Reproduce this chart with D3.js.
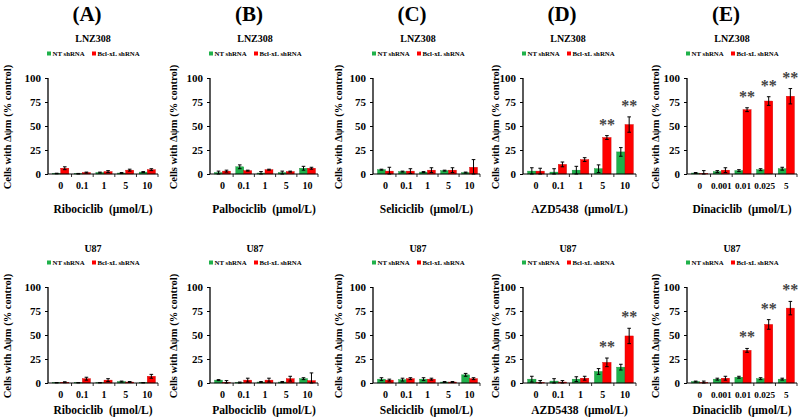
<!DOCTYPE html>
<html>
<head>
<meta charset="utf-8">
<script src="https://cdn.jsdelivr.net/npm/d3@7"></script>
<style>
  body { margin: 0; background: #fff; }
  text { font-family: "Liberation Serif", "Times New Roman", serif; font-weight: bold; }
</style>
</head>
<body>
<script>
// Data
var drugs = ["Ribociclib", "Palbociclib", "Seliciclib", "AZD5438", "Dinaciclib"];
var letters = ["(A)", "(B)", "(C)", "(D)", "(E)"];
var cellLines = ["LNZ308", "U87"];
var doses = ["0", "0.1", "1", "5", "10"];
var dinaDoses = ["0", "0.001", "0.01", "0.025", "5"];
var seriesNames = ["NT shRNA", "Bcl-xL shRNA"];

// LNZ308, one row per drug, one value per dose
var lnzNT = [
  [0.5, 0.3, 1.5, 1, 2],
  [1.5, 7.5, 1, 1.5, 6],
  [4.5, 2.5, 2, 3.5, 1.5],
  [3, 2, 4, 5.5, 23],
  [1, 2.5, 3.5, 4.5, 5.5]
];
var lnzNTErr = [
  [0.3, 0.3, 0.5, 0.5, 0.5],
  [1.5, 2, 1.5, 1.5, 2],
  [0.5, 0.5, 0.5, 0.5, 0.5],
  [3.5, 3.5, 4, 4, 4.5],
  [0.5, 1, 1, 1, 1.5]
];
var lnzBcl = [
  [6, 1.5, 2.5, 4, 4.5],
  [3, 3.5, 4.5, 2.5, 6],
  [3, 3, 4, 4, 7],
  [3, 10, 15, 38, 51.5],
  [0.5, 4, 67, 76, 81]
];
var lnzBclErr = [
  [1.5, 0.5, 1, 1, 1],
  [1, 0.5, 0.5, 0.5, 1],
  [4, 2.5, 2.5, 2.5, 8],
  [3, 2.5, 2, 2, 8],
  [3, 2.5, 2, 4.5, 8]
];
var lnzSig = [[], [], [], [3, 4], [2, 3, 4]];

// U87
var u87NT = [
  [0.3, 0.3, 0.3, 1.5, 0.3],
  [3, 0.5, 1, 1, 4.5],
  [4, 3.5, 4, 1, 8.5],
  [4, 2, 4, 12, 16.5],
  [1.5, 4, 6, 4.5, 4]
];
var u87NTErr = [
  [0.2, 0.2, 0.2, 0.5, 0.2],
  [0.5, 0.5, 0.5, 0.5, 1],
  [1.5, 1.5, 1.5, 0.5, 1.5],
  [3, 2.5, 2.5, 3, 3],
  [0.5, 1, 1, 1, 1]
];
var u87Bcl = [
  [0.8, 4.5, 3, 1, 7],
  [0.5, 3, 3, 4.5, 2.5],
  [3, 4.5, 4, 1, 4.5],
  [0.5, 1, 5, 21.5, 49],
  [0.5, 5, 34, 61, 78]
];
var u87BclErr = [
  [0.5, 1.5, 1.5, 0.5, 2],
  [2, 2, 2, 2.5, 8],
  [1, 1, 1, 0.5, 1],
  [2, 1.5, 2, 4.5, 8],
  [1.5, 2, 2, 5, 7]
];
var u87Sig = [[], [], [], [3, 4], [2, 3, 4]];

var yTicks = [0, 25, 50, 75, 100];
var colors = ["#1fb14a", "#ff0000"];
var strokes = ["#168a38", "#c80000"];

// Layout
var W = 800, H = 419;
var axisX = [48, 210, 373, 523, 687];
var axisEnd = [158, 318, 480, 636, 797];
var yLabelX = [7, 173, 338, 495, 655];
var rows = [
  { top: 78, bottom: 174, title: 14, cell: 38, legend: 54, xlab: 213, ylab: 127,
    nt: lnzNT, ntErr: lnzNTErr, bcl: lnzBcl, bclErr: lnzBclErr, sig: lnzSig },
  { top: 287, bottom: 383, title: null, cell: 248, legend: 263, xlab: 414, ylab: 336,
    nt: u87NT, ntErr: u87NTErr, bcl: u87Bcl, bclErr: u87BclErr, sig: u87Sig }
];

var svg = d3.select("body").append("svg")
    .attr("width", W)
    .attr("height", H);

rows.forEach(function(row, r) {
  drugs.forEach(function(drug, p) {
    var ax = axisX[p], ae = axisEnd[p];
    var cats = p === 4 ? dinaDoses : doses;
    var mid = ax + 45;

    var x = d3.scaleBand()
        .domain(cats)
        .range([ax + 2, ae])
        .paddingInner(0.25)
        .paddingOuter(0.12);
    var x1 = d3.scaleBand()
        .domain([0, 1])
        .range([0, x.bandwidth()]);
    var y = d3.scaleLinear()
        .domain([0, 100])
        .range([row.bottom, row.top]);

    var g = svg.append("g");

    if (row.title !== null) {
      g.append("text")
          .attr("x", ax + 39).attr("y", row.title + 7)
          .attr("text-anchor", "middle")
          .attr("font-size", 21)
          .text(letters[p]);
    }

    g.append("text")
        .attr("x", mid).attr("y", row.cell + 3.5)
        .attr("text-anchor", "middle")
        .attr("font-size", 10)
        .text(cellLines[r]);

    // legend
    var lg = g.append("g").attr("transform", "translate(" + (mid - 46) + "," + row.legend + ")");
    seriesNames.forEach(function(s, i) {
      var off = i === 0 ? 0 : 45;
      lg.append("rect")
          .attr("x", off).attr("y", -2.5)
          .attr("width", 4).attr("height", 4)
          .attr("fill", colors[i]);
      lg.append("text")
          .attr("x", off + 5.5).attr("y", 2)
          .attr("font-size", 6.8)
          .text(s);
    });

    // bars
    var data = cats.map(function(c, i) {
      return [
        { c: c, s: 0, v: row.nt[p][i], e: row.ntErr[p][i] },
        { c: c, s: 1, v: row.bcl[p][i], e: row.bclErr[p][i] }
      ];
    });
    var flat = d3.merge(data);

    g.selectAll(".bar")
      .data(flat)
      .enter().append("rect")
        .attr("x", function(d) { return x(d.c) + x1(d.s); })
        .attr("y", function(d) { return y(d.v); })
        .attr("width", x1.bandwidth())
        .attr("height", function(d) { return y(0) - y(d.v); })
        .attr("fill", function(d) { return colors[d.s]; })
        .attr("stroke", function(d) { return strokes[d.s]; })
        .attr("stroke-width", 0.4);

    // error bars
    var eb = g.selectAll(".err")
      .data(flat)
      .enter().append("g")
        .attr("stroke", "#000")
        .attr("stroke-width", 1);
    eb.append("line")
        .attr("x1", function(d) { return x(d.c) + x1(d.s) + x1.bandwidth() / 2; })
        .attr("x2", function(d) { return x(d.c) + x1(d.s) + x1.bandwidth() / 2; })
        .attr("y1", function(d) { return y(d.v + d.e); })
        .attr("y2", function(d) { return y(Math.max(0, d.v - d.e)); });
    [1, -1].forEach(function(sign) {
      eb.append("line")
          .attr("x1", function(d) { return x(d.c) + x1(d.s) + x1.bandwidth() / 2 - 1.8; })
          .attr("x2", function(d) { return x(d.c) + x1(d.s) + x1.bandwidth() / 2 + 1.8; })
          .attr("y1", function(d) { return y(Math.max(0, d.v + sign * d.e)); })
          .attr("y2", function(d) { return y(Math.max(0, d.v + sign * d.e)); });
    });

    // significance stars
    row.sig[p].forEach(function(i) {
      var top = row.bcl[p][i] + row.bclErr[p][i];
      g.append("text")
          .attr("x", x(cats[i]) + x1(1) + x1.bandwidth() / 2)
          .attr("y", y(top) - 6)
          .attr("text-anchor", "middle")
          .attr("font-size", 16)
          .attr("fill", "#444")
          .text("**");
    });

    // y axis
    var yAxis = g.append("g")
        .attr("transform", "translate(" + ax + ",0)")
        .call(d3.axisLeft(y).tickValues(yTicks).tickSize(3).tickPadding(4));
    yAxis.select(".domain").attr("stroke", "#000").attr("stroke-width", 1.3)
        .attr("d", "M0," + row.top + "V" + row.bottom);
    yAxis.selectAll("text").attr("font-size", 11).attr("font-family", "Liberation Serif").attr("font-weight", "bold");

    // x axis
    var xAxis = g.append("g")
        .attr("transform", "translate(0," + row.bottom + ")")
        .call(d3.axisBottom(x).tickSize(0).tickPadding(8));
    xAxis.select(".domain").attr("stroke", "#000").attr("stroke-width", 1)
        .attr("d", "M" + ax + ",0H" + ae);
    xAxis.selectAll("text").attr("font-size", p === 4 ? 9.2 : 10).attr("font-family", "Liberation Serif").attr("font-weight", "bold");
    // separator ticks between categories
    var bounds = cats.slice(1).map(function(c) { return x(c) - x.step() * x.paddingInner() / 2; });
    bounds.push(ae);
    xAxis.selectAll(".sep")
      .data(bounds)
      .enter().append("line")
        .attr("x1", function(d) { return d; })
        .attr("x2", function(d) { return d; })
        .attr("y1", 0).attr("y2", 3)
        .attr("stroke", "#000")
        .attr("stroke-width", 0.8);

    // axis labels
    g.append("text")
        .attr("x", (ax + ae) / 2).attr("y", row.xlab)
        .attr("text-anchor", "middle")
        .attr("font-size", 11.5)
        .attr("xml:space", "preserve")
        .text(drug + "  (\u03bcmol/L)");

    g.append("text")
        .attr("transform", "translate(" + (yLabelX[p] + 4) + "," + row.ylab + ") rotate(-90)")
        .attr("text-anchor", "middle")
        .attr("font-size", 10.5)
        .text("Cells with \u0394\u03c8m (% control)");
  });
});
</script>
</body>
</html>
